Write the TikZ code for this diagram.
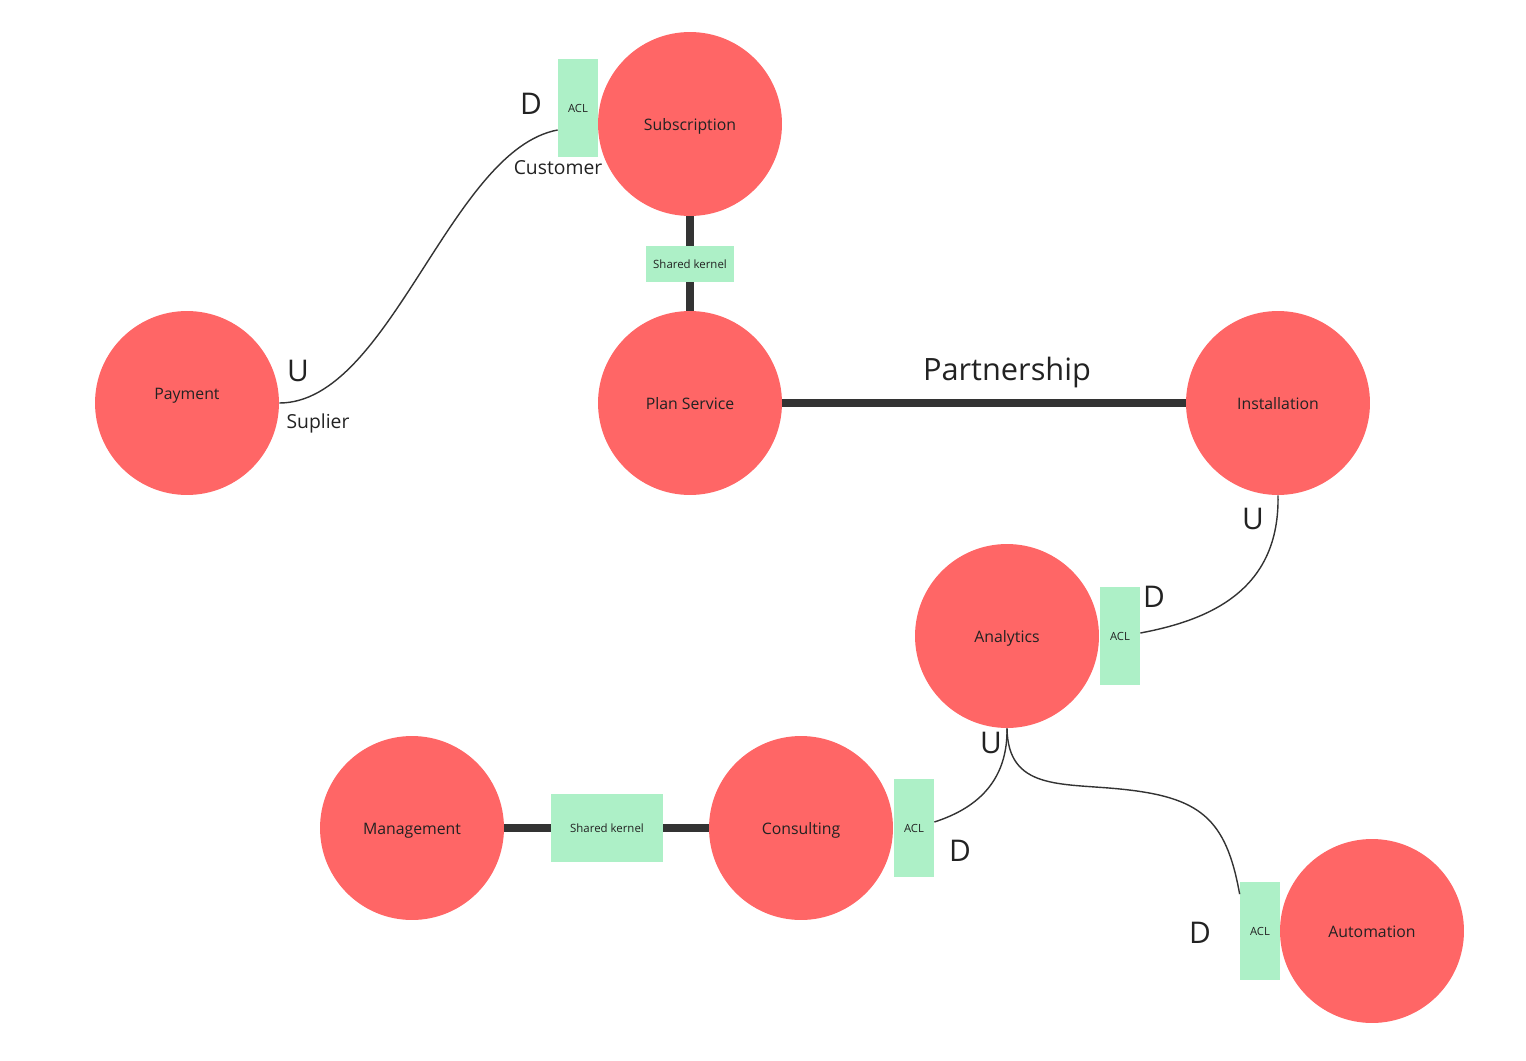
\documentclass[tikz,border=0pt]{standalone}
\usepackage{fontspec}
\setmainfont{Open Sans}
\usepackage{xcolor}
\usepackage{tikz}
\definecolor{BC}{HTML}{FF6666}
\definecolor{LINK}{HTML}{ADF0C7}
\definecolor{INK}{HTML}{333333}
\definecolor{TXT}{HTML}{222222}
\tikzset{
  context/.style={circle, fill=BC, minimum size=3.68cm, inner sep=0pt, text=TXT, text height=0.72em, text depth=0pt, font=\fontsize{9}{11}\selectfont},
  aclbox/.style={fill=LINK, minimum width=0.8cm, minimum height=1.98cm, inner sep=0pt, text=TXT, font=\fontsize{6.4}{8}\selectfont},
  kernelbox/.style={fill=LINK, inner sep=0pt, text=TXT, font=\fontsize{6.5}{8}\selectfont},
  rel/.style={line width=5pt, draw=INK},
  updown/.style={line width=0.8pt, draw=INK},
  side/.style={text=TXT, font=\fontsize{17}{20}\selectfont},
  role/.style={text=TXT, font=\fontsize{11}{13}\selectfont}
}

\begin{document}
\begin{tikzpicture}[x=0.02cm, y=-0.02cm]%
\useasboundingbox (0,0) rectangle (1526,1061);%
\node[context] (sub) at (690,124) {Subscription};%
\node[context, text depth=0.4cm] (pay) at (187,403) {Payment};%
\node[context] (plan) at (690,403) {Plan Service};%
\node[context] (inst) at (1278,403) {Installation};%
\node[context] (ana) at (1007,636) {Analytics};%
\node[context] (mgmt) at (412,828) {Management};%
\node[context] (cons) at (801,828) {Consulting};%
\node[context] (auto) at (1372,931) {Automation};%
\draw[rel] (sub.south) -- (plan.north);%
\draw[rel] (plan.east) -- (inst.west);%
\draw[rel] (mgmt.east) -- (cons.west);%
\node[side, font=\fontsize{17.5}{20}\selectfont] (partner) at (1007,373) {Partnership};%
\node[kernelbox, minimum width=1.76cm, minimum height=0.74cm] (skA) at (690,264) {Shared kernel};%
\node[kernelbox, minimum width=2.24cm, minimum height=1.36cm] (skB) at (607,828) {Shared kernel};%
\node[aclbox] (aclSub) at (578,108) {ACL};%
\node[aclbox] (aclAna) at (1120,636) {ACL};%
\node[aclbox] (aclCons) at (914,828) {ACL};%
\node[aclbox] (aclAuto) at (1260,931) {ACL};%
\draw[updown] (pay.east) .. controls (390,403) and (450,150) .. ([yshift=-0.44cm]aclSub.west);%
\draw[updown] (inst.south) .. controls (1280,590) and (1210,620) .. ([yshift=0.06cm]aclAna.east);%
\draw[updown] (ana.south) .. controls (1008,790) and (965,812) .. ([yshift=0.12cm]aclCons.east);%
\draw[updown] (ana.south) .. controls (1008,790) and (1060,783) .. (1120,789) .. controls (1200,797) and (1226,818) .. ([yshift=-0.26cm]aclAuto.north west);%
\node[side] (dSub) at (531,104) {D};%
\node[role] (cust) at (558,168) {Customer};%
\node[side] (uPay) at (298,371) {U};%
\node[role] (supl) at (318,423) {Suplier};%
\node[side] (uInst) at (1253,519) {U};%
\node[side] (dAna) at (1154,597) {D};%
\node[side] (uAna) at (991,743) {U};%
\node[side] (dCons) at (960,851) {D};%
\node[side] (dAuto) at (1200,933) {D};%
\end{tikzpicture}
\end{document}
